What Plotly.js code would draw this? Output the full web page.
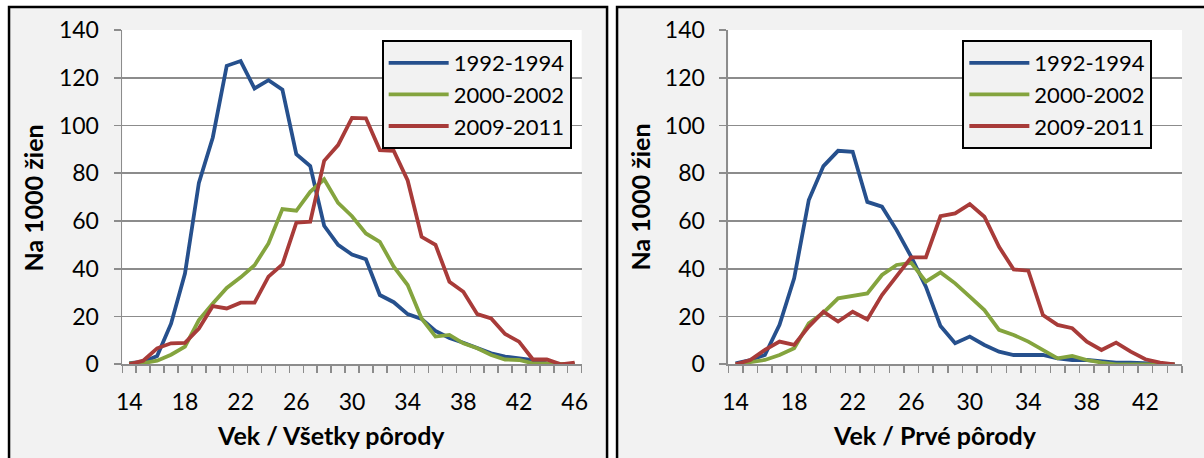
<!DOCTYPE html>
<html>
<head>
<meta charset="utf-8">
<script src="https://cdn.plot.ly/plotly-3.0.1.min.js"></script>
<style>
  html, body { margin: 0; padding: 0; background: #fff; }
  #chart { width: 1204px; height: 458px; }
</style>
</head>
<body>
<div id="chart"></div>
<script>
var agesAll = [14, 15, 16, 17, 18, 19, 20, 21, 22, 23, 24, 25, 26, 27, 28, 29, 30,
  31, 32, 33, 34, 35, 36, 37, 38, 39, 40, 41, 42, 43, 44, 45, 46];
var agesFirst = [14, 15, 16, 17, 18, 19, 20, 21, 22, 23, 24, 25, 26, 27, 28, 29, 30,
  31, 32, 33, 34, 35, 36, 37, 38, 39, 40, 41, 42, 43, 44];

var seriesNames = ['1992-1994', '2000-2002', '2009-2011'];
var seriesColors = ['#26508d', '#84a43e', '#a83b39'];

// vsetky porody (all births), per 1000 women
var all9294 = [0.5, 1, 3.5, 17, 38, 76, 95, 125, 127, 115.5, 119, 115, 88, 83, 58, 50, 46,
  44, 29, 26, 21, 19, 14, 11, 9, 6.7, 4.6, 3.2, 2.5, 1.8, 0.4, 0, 0];
var all0002 = [0.4, 0.5, 1.5, 4, 7.4, 18.5, 25.5, 32, 36.4, 41.5, 50.6, 65, 64.3, 72.2, 77.5, 67.6, 62,
  54.8, 51.3, 40.9, 33.2, 19.2, 11.6, 12.3, 8.8, 6.7, 3.9, 2, 1.8, 0.4, 0.4, 0, 0];
var all0911 = [0, 1.5, 6.7, 8.8, 9, 15, 24.4, 23.4, 25.8, 25.8, 36.7, 41.8, 59.3, 59.7, 85.2, 91.8, 103.2,
  103, 89.7, 89.4, 77, 53.4, 50, 34.6, 30.4, 21, 19.2, 12.7, 9.5, 2, 2, 0, 0.7];

// prve porody (first births)
var first9294 = [0.4, 1.8, 3.9, 16.5, 36, 68.8, 83, 89.4, 89, 68, 66, 56.2, 45, 32.5, 16, 8.8, 11.6,
  8.1, 5.3, 3.9, 3.9, 3.9, 2.5, 1.8, 1.8, 1.1, 0.7, 0.7, 0.4, 0, 0];
var first0002 = [0, 0.7, 1.8, 3.9, 6.7, 17.2, 21.6, 27.6, 28.6, 29.7, 37.4, 41.6, 42.5, 34.6, 38.5, 33.9, 28.3,
  22.7, 14.4, 12.3, 9.5, 6, 2.5, 3.5, 1.8, 0.7, 0, 0, 0, 0, 0];
var first0911 = [0, 1.8, 6, 9.5, 8.1, 15.8, 22, 17.9, 22, 18.8, 29, 37, 44.8, 44.8, 62, 63.2, 67.1,
  61.8, 49.2, 39.7, 39.2, 20.6, 16.5, 15.1, 9.5, 6, 9.1, 5.3, 2.1, 0.7, 0];

var yTicks = [0, 20, 40, 60, 80, 100, 120, 140];
var xTicksAll = [14, 18, 22, 26, 30, 34, 38, 42, 46];
var xTicksFirst = [14, 18, 22, 26, 30, 34, 38, 42];

var fontFamily = 'Lato, "Open Sans", sans-serif';
var gridGray = '#8c8c8c';
var textColor = '#000';

function make_trace(x, y, idx, axisSuffix, legendId) {
  return {
    x: x,
    y: y,
    name: seriesNames[idx],
    type: 'scatter',
    mode: 'lines',
    line: { color: seriesColors[idx], width: 3.8 },
    xaxis: 'x' + axisSuffix,
    yaxis: 'y' + axisSuffix,
    legend: legendId
  };
}

var traces = [
  make_trace(agesAll, all9294, 0, '', 'legend'),
  make_trace(agesAll, all0002, 1, '', 'legend'),
  make_trace(agesAll, all0911, 2, '', 'legend'),
  make_trace(agesFirst, first9294, 0, '2', 'legend2'),
  make_trace(agesFirst, first0002, 1, '2', 'legend2'),
  make_trace(agesFirst, first0911, 2, '2', 'legend2')
];

function x_axis(domain, range, tickvals) {
  return {
    domain: domain,
    range: range,
    tickmode: 'array',
    tickvals: tickvals,
    ticks: '',
    ticklabelstandoff: 16,
    showgrid: false,
    zeroline: false,
    showline: true,
    linecolor: gridGray,
    linewidth: 1.8,
    minor: {
      tickmode: 'linear',
      tick0: 13.5,
      dtick: 1,
      ticks: 'outside',
      ticklen: 7,
      tickwidth: 1.5,
      tickcolor: gridGray,
      showgrid: false
    },
    tickfont: { family: fontFamily, size: 23, color: textColor },
    fixedrange: true
  };
}

function y_axis(anchor) {
  return {
    domain: [0.2046, 0.9345],
    anchor: anchor,
    range: [0, 140],
    tickmode: 'array',
    tickvals: yTicks,
    ticks: 'outside',
    ticklen: 7,
    tickwidth: 1.8,
    tickcolor: gridGray,
    ticklabelstandoff: 10,
    showgrid: true,
    gridcolor: gridGray,
    gridwidth: 1.8,
    zeroline: false,
    showline: true,
    linecolor: gridGray,
    linewidth: 1.8,
    tickfont: { family: fontFamily, size: 23, color: textColor },
    fixedrange: true
  };
}

function legend_box(x) {
  return {
    x: x,
    y: 0.9127,
    xref: 'paper',
    yref: 'paper',
    xanchor: 'left',
    yanchor: 'top',
    bgcolor: '#f2f2f2',
    bordercolor: '#000',
    borderwidth: 2,
    font: { family: fontFamily, size: 22, color: textColor },
    itemwidth: 60,
    tracegroupgap: 0
  };
}

function axis_title(text, x, y, angle) {
  return {
    text: '<b>' + text + '</b>',
    x: x,
    y: y,
    xref: 'paper',
    yref: 'paper',
    xanchor: 'center',
    yanchor: 'middle',
    textangle: angle,
    showarrow: false,
    font: { family: fontFamily, size: 25, color: textColor }
  };
}

var layout = {
  width: 1204,
  height: 458,
  margin: { l: 0, r: 0, t: 0, b: 0, pad: 0 },
  paper_bgcolor: '#ffffff',
  plot_bgcolor: 'rgba(0,0,0,0)',
  showlegend: true,
  xaxis: x_axis([0.1016, 0.4831], [13.5, 46.5], xTicksAll),
  yaxis: y_axis('x'),
  xaxis2: Object.assign(x_axis([0.6049, 0.9817], [13.5, 44.5], xTicksFirst), { anchor: 'y2' }),
  yaxis2: y_axis('x2'),
  legend: legend_box(0.317),
  legend2: legend_box(0.7993),
  shapes: [
    // panel frames
    { type: 'rect', xref: 'paper', yref: 'paper', x0: 0.0075, x1: 0.5042, y0: -0.05, y1: 0.9847,
      fillcolor: '#f2f2f2', line: { color: '#000', width: 2.5 }, layer: 'below' },
    { type: 'rect', xref: 'paper', yref: 'paper', x0: 0.5125, x1: 1.01, y0: -0.05, y1: 0.9847,
      fillcolor: '#f2f2f2', line: { color: '#000', width: 2.5 }, layer: 'below' },
    // plot areas
    { type: 'rect', xref: 'x domain', yref: 'y domain', x0: 0, x1: 1, y0: 0, y1: 1,
      fillcolor: '#ffffff', line: { width: 0 }, layer: 'below' },
    { type: 'rect', xref: 'x2 domain', yref: 'y2 domain', x0: 0, x1: 1, y0: 0, y1: 1,
      fillcolor: '#ffffff', line: { width: 0 }, layer: 'below' }
  ],
  annotations: [
    axis_title('Vek / Všetky pôrody', 0.2749, 0.0502, 0),
    axis_title('Vek / Prvé pôrody', 0.7766, 0.0502, 0),
    axis_title('Na 1000 žien', 0.0282, 0.5688, -90),
    axis_title('Na 1000 žien', 0.5316, 0.5688, -90)
  ]
};

var config = {
  responsive: false,
  displayModeBar: false,
  staticPlot: true
};

Plotly.newPlot('chart', traces, layout, config);
</script>
</body>
</html>
